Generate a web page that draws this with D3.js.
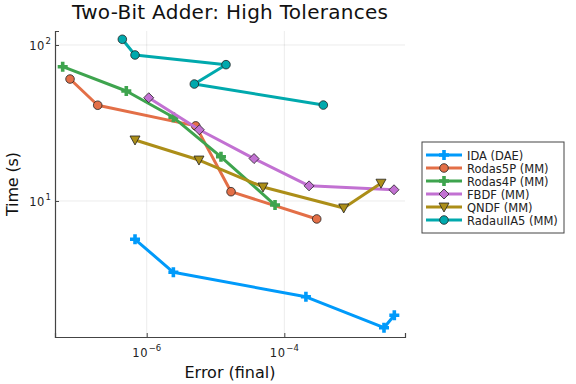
<!DOCTYPE html>
<html>
<head>
<meta charset="utf-8">
<script src="https://cdn.jsdelivr.net/npm/d3@7"></script>
<style>
  html, body { margin: 0; padding: 0; background: #fff; overflow: hidden; }
  svg { display: block; font-family: "DejaVu Sans", sans-serif; }
</style>
</head>
<body>
<svg width="576" height="384"></svg>
<script>
const seriesNames = ['IDA (DAE)', 'Rodas5P (MM)', 'Rodas4P (MM)', 'FBDF (MM)', 'QNDF (MM)', 'RadauIIA5 (MM)'];
const seriesColors = ['#009afa', '#e36f47', '#3ea44e', '#c271d2', '#ac8e18', '#00a9ad'];
const seriesMarkers = ['cross', 'circle', 'cross', 'diamond', 'triangle', 'circle'];

const idaErr = [6.76e-7, 2.44e-6, 2.06e-4, 2.81e-3, 3.97e-3];
const idaTime = [5.68, 3.49, 2.43, 1.54, 1.85];
const rodas5pErr = [7.68e-8, 1.94e-7, 5.15e-6, 1.68e-5, 2.96e-4];
const rodas5pTime = [60.5, 41.1, 30.3, 11.47, 7.67];
const rodas4pErr = [6.01e-8, 5.05e-7, 2.44e-6, 1.20e-5, 7.33e-5];
const rodas4pTime = [72.6, 50.7, 34.4, 19.2, 9.42];
const fbdfErr = [1.07e-6, 5.82e-6, 3.63e-5, 2.29e-4, 3.93e-3];
const fbdfTime = [45.9, 28.6, 18.7, 12.5, 11.8];
const qndfErr = [6.76e-7, 5.75e-6, 4.90e-5, 7.30e-4, 2.54e-3];
const qndfTime = [24.6, 18.3, 12.3, 9.02, 13.0];
const radauErr = [4.42e-7, 6.76e-7, 1.42e-5, 4.92e-6, 3.69e-4];
const radauTime = [108.8, 86.3, 74.8, 56.2, 41.2];

const xTicks = [1e-6, 1e-4];
const xTickExp = ['−6', '−4'];
const yTicks = [10, 100];
const yTickExp = ['1', '2'];

const errs = [idaErr, rodas5pErr, rodas4pErr, fbdfErr, qndfErr, radauErr];
const times = [idaTime, rodas5pTime, rodas4pTime, fbdfTime, qndfTime, radauTime];
const series = seriesNames.map((name, i) => ({
    name,
    color: seriesColors[i],
    marker: seriesMarkers[i],
    points: errs[i].map((e, j) => ({ x: e, y: times[i][j] }))
}));

const svg = d3.select('svg');
const margin = { top: 31, right: 171, bottom: 47, left: 55 };
const innerWidth = 576 - margin.left - margin.right;
const innerHeight = 384 - margin.top - margin.bottom;

const xScale = d3.scaleLog()
    .domain([Math.pow(10, -7.333), Math.pow(10, -2.246)])
    .range([0, innerWidth]);
const yScale = d3.scaleLog()
    .domain([Math.pow(10, 0.128), Math.pow(10, 2.0897)])
    .range([innerHeight, 0]);

const g = svg.append('g')
    .attr('transform', `translate(${margin.left},${margin.top})`);

// grid
g.selectAll('.gx').data(xTicks).enter().append('line')
    .attr('x1', d => xScale(d)).attr('x2', d => xScale(d))
    .attr('y1', 0).attr('y2', innerHeight)
    .attr('stroke', '#000').attr('stroke-opacity', 0.1).attr('stroke-width', 0.8);
g.selectAll('.gy').data(yTicks).enter().append('line')
    .attr('y1', d => yScale(d)).attr('y2', d => yScale(d))
    .attr('x1', 0).attr('x2', innerWidth)
    .attr('stroke', '#000').attr('stroke-opacity', 0.1).attr('stroke-width', 0.8);

// axes
const xAxis = g.append('g')
    .attr('transform', `translate(0,${innerHeight})`)
    .call(d3.axisBottom(xScale).tickValues(xTicks).tickSize(-4).tickFormat(''));
const yAxis = g.append('g')
    .call(d3.axisLeft(yScale).tickValues(yTicks).tickSize(-4).tickFormat(''));
[xAxis, yAxis].forEach(a => {
    a.select('.domain').attr('stroke', '#444').attr('stroke-width', 1.2);
    a.selectAll('.tick line').attr('stroke', '#444');
});

// power-of-ten labels: base and exponent as separate texts
const powerLabel = (x, y, exp, anchor) => {
    const base = g.append('text').attr('y', y)
        .attr('font-size', 11.5).attr('fill', '#222').attr('letter-spacing', 0.6).text('10');
    const sup = g.append('text').attr('y', y - 6)
        .attr('font-size', 8.5).attr('fill', '#222').text(exp);
    const bw = base.node().getComputedTextLength() + 0.6;
    const sw = sup.node().getComputedTextLength();
    const left = anchor === 'middle' ? x - (bw + sw) / 2 : x - (bw + sw);
    base.attr('x', left);
    sup.attr('x', left + bw);
};
xTicks.forEach((t, i) => powerLabel(xScale(t), innerHeight + 20, xTickExp[i], 'middle'));
yTicks.forEach((t, i) => powerLabel(-4, yScale(t) + 5, yTickExp[i], 'end'));

// titles
svg.append('text')
    .attr('x', margin.left + innerWidth / 2).attr('y', 18.5)
    .attr('text-anchor', 'middle').attr('font-size', 20).attr('fill', '#111')
    .attr('textLength', 316).attr('lengthAdjust', 'spacing')
    .text('Two-Bit Adder: High Tolerances');
svg.append('text')
    .attr('x', margin.left + innerWidth / 2).attr('y', 377.5)
    .attr('text-anchor', 'middle').attr('font-size', 16).attr('fill', '#111')
    .attr('textLength', 91).attr('lengthAdjust', 'spacing')
    .text('Error (final)');
svg.append('text')
    .attr('transform', `translate(18,${margin.top + innerHeight / 2}) rotate(-90)`)
    .attr('text-anchor', 'middle').attr('font-size', 16).attr('fill', '#111')
    .attr('textLength', 64).attr('lengthAdjust', 'spacing')
    .text('Time (s)');

const drawMarker = (sel, s) => {
    if (s.marker === 'circle') {
        sel.append('circle').attr('r', 4.3)
            .attr('fill', s.color).attr('stroke', '#222').attr('stroke-width', 0.8);
    } else if (s.marker === 'diamond') {
        sel.append('path').attr('d', 'M0,-5L5,0L0,5L-5,0Z')
            .attr('fill', s.color).attr('stroke', '#222').attr('stroke-width', 0.8);
    } else if (s.marker === 'triangle') {
        sel.append('path').attr('d', 'M-5,-4L5,-4L0,5Z')
            .attr('fill', s.color).attr('stroke', '#222').attr('stroke-width', 0.8);
    } else {
        sel.append('path').attr('d', 'M-1.8,-5H1.8V-1.8H5V1.8H1.8V5H-1.8V1.8H-5V-1.8H-1.8Z')
            .attr('fill', s.color);
    }
};

const line = d3.line().x(d => xScale(d.x)).y(d => yScale(d.y));

series.forEach(s => {
    g.append('path').datum(s.points)
        .attr('d', line)
        .attr('fill', 'none').attr('stroke', s.color).attr('stroke-width', 3)
        .attr('stroke-linejoin', 'round');
    s.points.forEach(p => {
        const m = g.append('g').attr('transform', `translate(${xScale(p.x)},${yScale(p.y)})`);
        drawMarker(m, s);
    });
});

// legend
const lg = svg.append('g').attr('transform', 'translate(422,142)');
lg.append('rect').attr('width', 142).attr('height', 91)
    .attr('fill', '#fff').attr('stroke', '#444').attr('stroke-width', 1);
series.forEach((s, i) => {
    const row = lg.append('g').attr('transform', `translate(0,${13 + i * 13})`);
    row.append('line').attr('x1', 4).attr('x2', 40)
        .attr('stroke', s.color).attr('stroke-width', 3);
    const m = row.append('g').attr('transform', 'translate(22,0)');
    drawMarker(m, s);
    row.append('text').attr('x', 45).attr('y', 4.5)
        .attr('font-size', 11.5).attr('fill', '#222').text(s.name);
});
</script>
</body>
</html>
